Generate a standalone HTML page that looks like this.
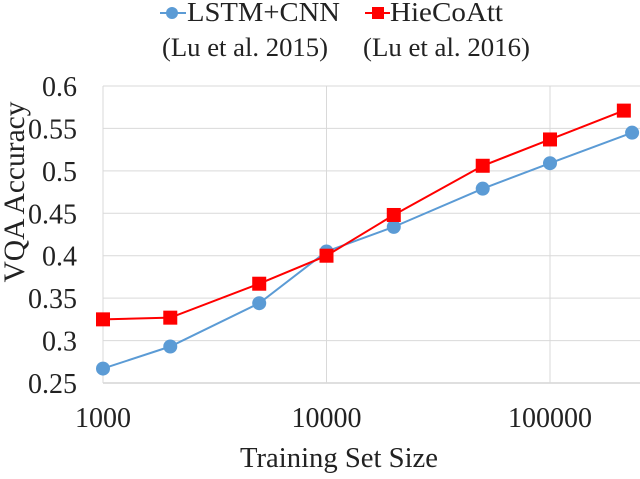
<!DOCTYPE html>
<html><head><meta charset="utf-8"><style>
body{margin:0;background:#fff;}
svg text{font-family:"Liberation Serif",serif;fill:#222;}
</style></head><body>
<svg width="640" height="474" viewBox="0 0 640 474">
<g id="grid"></g>
<g id="axes"></g>
<g id="series"></g>
<g>
  <line x1="160" y1="13" x2="186" y2="13" stroke="#5b9bd5" stroke-width="2"/>
  <circle cx="172" cy="13" r="6" fill="#5b9bd5"/>
  <text x="187" y="21" font-size="27" textLength="153" lengthAdjust="spacingAndGlyphs">LSTM+CNN</text>
  <line x1="365" y1="13" x2="390" y2="13" stroke="#ff0000" stroke-width="2"/>
  <rect x="372" y="7" width="12" height="12" fill="#ff0000"/>
  <text x="390" y="21" font-size="27" textLength="113" lengthAdjust="spacingAndGlyphs">HieCoAtt</text>
  <text x="162" y="56" font-size="26" textLength="166" lengthAdjust="spacingAndGlyphs">(Lu et al. 2015)</text>
  <text x="363" y="56" font-size="26" textLength="167" lengthAdjust="spacingAndGlyphs">(Lu et al. 2016)</text>
</g>
<text transform="translate(24,192) rotate(-90)" font-size="30" text-anchor="middle" textLength="181" lengthAdjust="spacingAndGlyphs">VQA Accuracy</text>
<text x="339" y="467" font-size="29" text-anchor="middle" textLength="198" lengthAdjust="spacingAndGlyphs">Training Set Size</text>
</svg>
<script>
const lstmX=[1000,2000,5000,10000,20000,50000,100000,233000];
const hieX=[1000,2000,5000,10000,20000,50000,100000,214000];
const lstmValues=[0.267,0.293,0.344,0.405,0.434,0.479,0.509,0.545];
const hieValues=[0.325,0.327,0.367,0.400,0.448,0.506,0.537,0.571];
const yTicks=[0.25,0.3,0.35,0.4,0.45,0.5,0.55,0.6];
const yTickLabels=["0.25","0.3","0.35","0.4","0.45","0.5","0.55","0.6"];
const xTicks=[1000,10000,100000];
const xTickLabels=["1000","10000","100000"];
const NS="http://www.w3.org/2000/svg";
const X0=103,DEC=223.5,XR=640,Y0=383,YT=86;
function xs(v){return X0+(Math.log10(v)-3)*DEC;}
function ys(v){return Y0-(v-0.25)/(0.35)*(Y0-YT);}
function mk(t,a,p){const e=document.createElementNS(NS,t);for(const k in a)e.setAttribute(k,a[k]);p.appendChild(e);return e;}
const grid=document.getElementById('grid'),axes=document.getElementById('axes'),ser=document.getElementById('series');
yTicks.forEach((v,i)=>{
  const l=mk('line',{x1:X0,x2:XR,y1:ys(v),y2:ys(v),stroke:i==0?'#bfbfbf':'#d9d9d9','stroke-width':1},grid);
  
  
  const t=mk('text',{x:77,y:ys(v)+10,'font-size':28,'text-anchor':'end'},axes);
  t.textContent=yTickLabels[i];
  
  
});
mk('line',{x1:X0,x2:X0,y1:YT,y2:Y0,stroke:'#d9d9d9'},grid);
xTicks.forEach((v,i)=>{
  if(i>0){const l=mk('line',{x1:xs(v),x2:xs(v),y1:YT,y2:Y0,stroke:'#d9d9d9'},grid);
  
  }
  const t=mk('text',{x:xs(v),y:427,'font-size':28,'text-anchor':'middle'},axes);
  t.textContent=xTickLabels[i];
  
  
});
function draw(xv,vals,color,name,sq){
  const pts=vals.map((v,i)=>xs(xv[i])+','+ys(v)).join(' ');
  const pl=mk('polyline',{points:pts,fill:'none',stroke:color,'stroke-width':2},ser);
  
  
  vals.forEach((v,i)=>{
    let m;
    if(sq)m=mk('rect',{x:xs(xv[i])-7,y:ys(v)-7,width:14,height:14,fill:color},ser);
    else m=mk('circle',{cx:xs(xv[i]),cy:ys(v),r:7,fill:color},ser);
    
    
  });
}
draw(lstmX,lstmValues,'#5b9bd5','lstm-cnn',false);
draw(hieX,hieValues,'#ff0000','hiecoatt',true);
</script>
</body></html>
